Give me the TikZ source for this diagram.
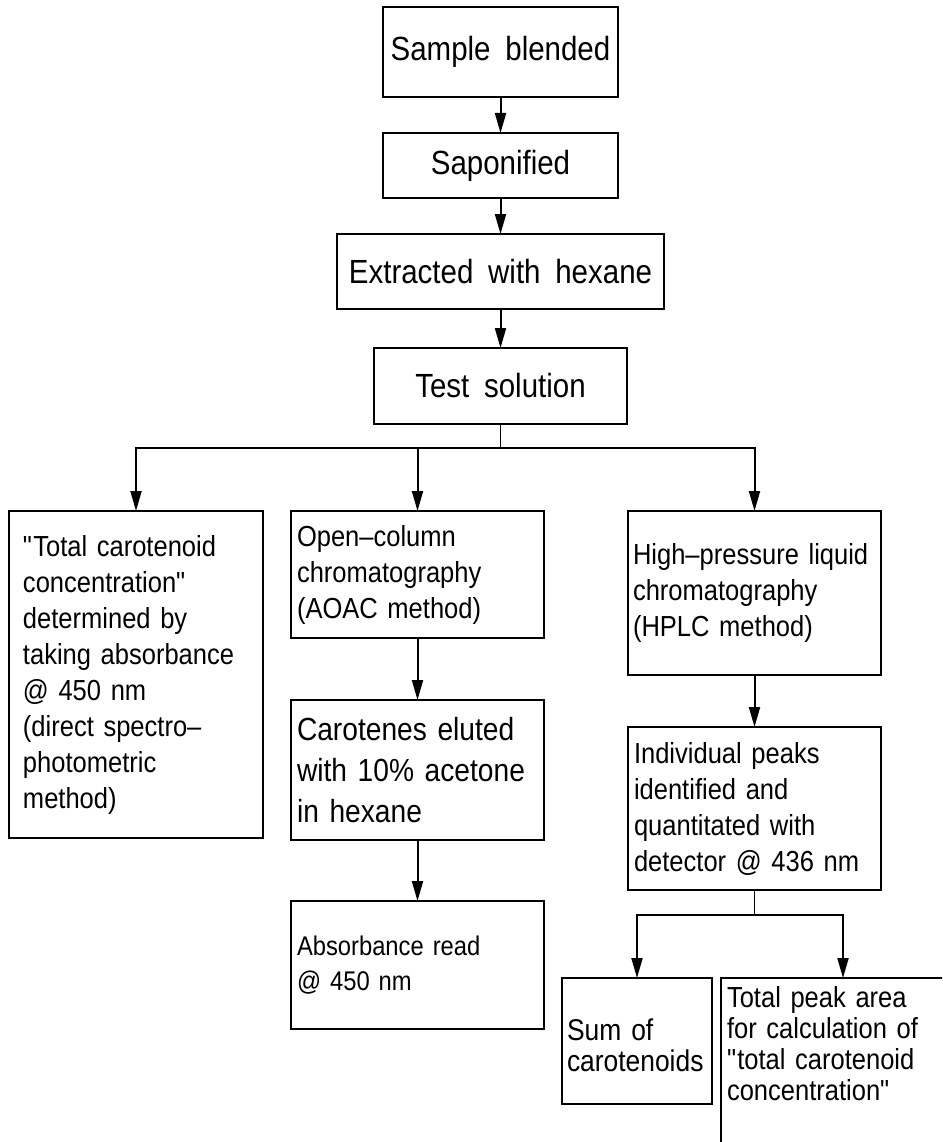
\documentclass[tikz,border=0pt]{standalone}
\usepackage{fontspec}
\setmainfont{Liberation Sans}[FakeStretch=0.88, WordSpace=1.8]
\usetikzlibrary{positioning, arrows.meta}
\setlength{\parindent}{0pt}

\begin{document}
\begin{tikzpicture} [
      x=1pt, y=-1pt,
      >=Triangle,
      topbox/.style={rectangle, draw=black, line width=1.6pt, outer sep=0pt, align=center, font=\fontsize{33.5}{40}\selectfont},
      stepbox/.style={rectangle, draw=black, line width=1.6pt, outer sep=0pt, inner xsep=6pt, align=left, font=\fontsize{29}{36}\selectfont},
      flow/.style={-{Triangle[length=20pt, width=11pt]}, line width=2pt},
      link/.style={line width=1.6pt}
  ]
  \useasboundingbox (0,0) rectangle (942,1142);
  \clip (0,0) rectangle (942,1142);

  \node[topbox, minimum width=235pt, minimum height=90pt] (sample) at (500.5,52) {Sample blended};
  \node[topbox, minimum width=235pt, minimum height=65pt, below=36pt of sample] (sapon) {Saponified};
  \node[topbox, minimum width=327pt, minimum height=75pt, below=36pt of sapon] (extract) {Extracted with hexane};
  \node[topbox, minimum width=253pt, minimum height=76pt, below=39pt of extract] (test) {Test solution};

  \node[stepbox, text width=241pt, minimum height=127pt, below=87pt of test, xshift=-83pt] (opencol) {Open--column\\chromatography\\(AOAC method)};
  \node[stepbox, text width=226pt, inner xsep=14pt, minimum height=327pt, below left=0pt and 28pt of opencol.north west] (totalconc) {\textquotedbl Total carotenoid\\concentration\textquotedbl\\determined by\\taking absorbance\\@ 450 nm\\(direct spectro--\\photometric\\method)};
  \node[stepbox, text width=243pt, inner xsep=5pt, minimum height=164pt, below right=0pt and 84pt of opencol.north east] (hplc) {High--pressure liquid\\chromatography\\(HPLC method)};
  \node[stepbox, text width=241pt, minimum height=140pt, below=62pt of opencol, font=\fontsize{32}{41}\selectfont] (eluted) {Carotenes eluted\\with 10\% acetone\\in hexane};
  \node[stepbox, text width=241pt, minimum height=128pt, below=61pt of eluted, font=\fontsize{27}{35}\selectfont] (absread) {Absorbance read\\@ 450 nm};
  \node[stepbox, text width=241pt, minimum height=163pt, below=52pt of hplc] (peaks) {Individual peaks\\identified and\\quantitated with\\detector @ 436 nm};
  \node[stepbox, text width=140pt, inner xsep=5pt, minimum height=126pt, below left=88pt and 42.5pt of peaks.south, font=\fontsize{30}{31}\selectfont] (sumcar) {\rule{0pt}{30pt}Sum of\\carotenoids};
  \node[stepbox, text width=232pt, inner ysep=8pt, below right=0pt and 9pt of sumcar.north east, font=\fontsize{29}{31}\selectfont] (totalpeak) {Total peak area\\for calculation of\\\textquotedbl total carotenoid\\concentration\textquotedbl\rule[-150pt]{0pt}{150pt}};

  \coordinate (split) at ([yshift=-24pt]test.south);
  \coordinate (split2) at ([yshift=-25pt]peaks.south);

  \draw[flow] (sample) -- (sapon);
  \draw[flow] (sapon) -- (extract);
  \draw[flow] (extract) -- (test);
  \draw[link] (test) -- (split);
  \draw[flow] (split) -| (totalconc.north);
  \draw[flow] (split) -| (opencol.north);
  \draw[flow] (split) -| (hplc.north);
  \draw[flow] (opencol) -- (eluted);
  \draw[flow] (eluted) -- (absread);
  \draw[flow] (hplc) -- (peaks);
  \draw[link] (peaks) -- (split2);
  \draw[flow] (split2) -| (sumcar.north);
  \draw[flow] (split2) -| (totalpeak.north);
\end{tikzpicture}
\end{document}
